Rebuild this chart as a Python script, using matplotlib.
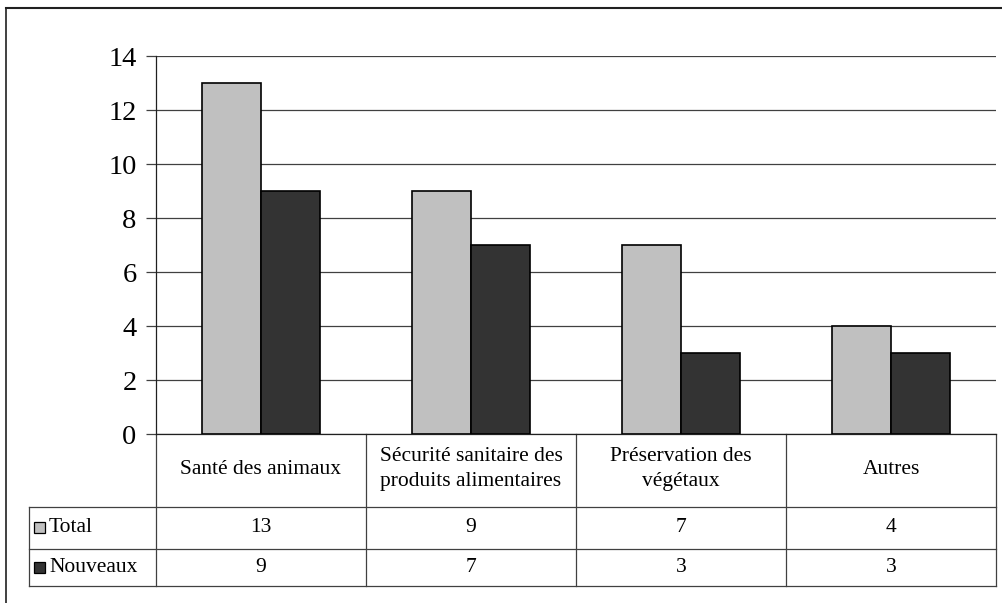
import matplotlib
matplotlib.use("Agg")
import matplotlib.pyplot as plt
from matplotlib.patches import Rectangle

plt.rcParams['font.family'] = ['Liberation Serif', 'DejaVu Serif']

categories = ["Santé des animaux",
              "Sécurité sanitaire des\nproduits alimentaires",
              "Préservation des\nvégétaux",
              "Autres"]
series_names = ["Total", "Nouveaux"]
total = [13, 9, 7, 4]
nouveaux = [9, 7, 3, 3]
series_values = [total, nouveaux]
series_colors = ["#c0c0c0", "#333333"]
yticks = [0, 2, 4, 6, 8, 10, 12, 14]

W, H = 1003, 603
fig = plt.figure(figsize=(W / 100, H / 100), dpi=100)

# overlay in pixel coordinates for the frame and the data table
ov = fig.add_axes([0, 0, 1, 1])
ov.set_xlim(0, W)
ov.set_ylim(H, 0)
ov.axis("off")

# plot area
px_left, px_right, px_top, px_bottom = 156, 996, 56, 434
ax = fig.add_axes([px_left / W, 1 - px_bottom / H,
                   (px_right - px_left) / W, (px_bottom - px_top) / H])
ax.set_zorder(2)
ax.patch.set_alpha(0)

n = len(categories)
bw = 0.28
offsets = [-bw / 2, bw / 2]
for vals, off, col in zip(series_values, offsets, series_colors):
    ax.bar([i + off for i in range(n)], vals, width=bw, color=col,
           edgecolor="black", linewidth=1.2, zorder=3)

ax.set_xlim(-0.5, n - 0.5)
ax.set_ylim(0, 14)
ax.set_yticks(yticks)
ax.set_yticklabels([str(t) for t in yticks], fontsize=20.5)
ax.tick_params(axis="y", length=7, width=0.9, color="#404040", pad=7)
ax.tick_params(axis="x", length=0, labelbottom=False)
ax.grid(axis="y", color="#404040", linewidth=0.9, zorder=0)
for s in ["top", "right"]:
    ax.spines[s].set_visible(False)
ax.spines["left"].set_color("#202020")
ax.spines["bottom"].set_color("#202020")
ax.spines["left"].set_linewidth(0.9)
ax.spines["bottom"].set_linewidth(0.9)

# outer frame (top and left edges)
ov.plot([6, W], [8, 8], color="#202020", lw=1.5)
ov.plot([6, 6], [8, H], color="#202020", lw=1.2)

# data table beneath the axis
lc = "#404040"
lw = 0.9
col_w = (px_right - px_left) / n
col_x = [px_left + k * col_w for k in range(n + 1)]
row_top, row_mid1, row_mid2, row_bot = 434, 507, 549, 586
leg_left = 29
fs = 15.5

for x in col_x:
    ov.plot([x, x], [row_top, row_bot], color=lc, lw=lw)
for y in [row_mid1, row_mid2, row_bot]:
    ov.plot([leg_left, px_right], [y, y], color=lc, lw=lw)
ov.plot([leg_left, leg_left], [row_mid1, row_bot], color=lc, lw=lw)

for k, cat in enumerate(categories):
    cx = (col_x[k] + col_x[k + 1]) / 2
    ov.text(cx, 469, cat, ha="center", va="center", fontsize=fs,
            linespacing=1.45)

row_centers = [527, 567]
for name, vals, col, yc in zip(series_names, series_values, series_colors,
                               row_centers):
    ov.add_patch(Rectangle((34, yc - 5.5), 11, 11, facecolor=col,
                           edgecolor="black", lw=0.9))
    ov.text(49, yc, name, ha="left", va="center", fontsize=fs)
    for k, v in enumerate(vals):
        cx = (col_x[k] + col_x[k + 1]) / 2
        ov.text(cx, yc, str(v), ha="center", va="center", fontsize=fs)

fig.savefig("out.png", dpi=100)
